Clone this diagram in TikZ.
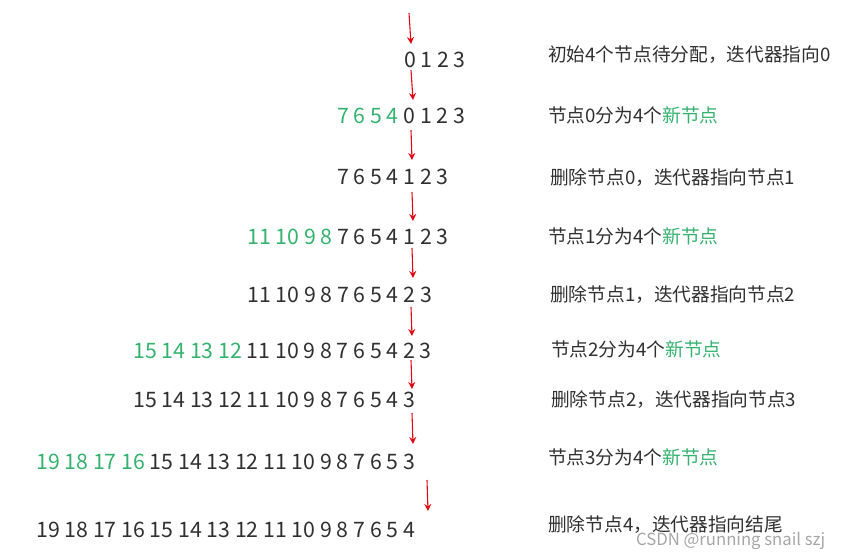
\documentclass[tikz,border=0pt]{standalone}
\usepackage{fontspec}
\setmainfont{Noto Sans CJK SC}
\usetikzlibrary{arrows.meta}
\definecolor{grn}{RGB}{52,178,110}
\definecolor{txt}{RGB}{48,48,48}
\definecolor{arr}{RGB}{225,10,20}
\newcommand{\nw}[1]{\textcolor{grn}{#1}}
\begin{document}
\begin{tikzpicture}[x=1pt,y=-1pt,every node/.style={inner sep=0pt},
    >={Stealth[width=7pt,length=7pt]},
    num/.style={anchor=base west,text=txt,font=\fontsize{21.3}{24}\selectfont},
    lab/.style={anchor=base west,text=txt,font=\fontsize{18.7}{22}\selectfont}]
    \useasboundingbox(0,0)rectangle(841,557);
    % rows of nodes
    \node[num](r1)at(404,67){0 1 2 3};
    \node[num](r2)at(337,123){\nw{7 6 5 4} 0 1 2 3};
    \node[num](r3)at(337,184){7 6 5 4 1 2 3};
    \node[num](r4)at(247,244){\nw{11 10 9 8} 7 6 5 4 1 2 3};
    \node[num](r5)at(247,302){11 10 9 8 7 6 5 4 2 3};
    \node[num](r6)at(133,358){\nw{15 14 13 12} 11 10 9 8 7 6 5 4 2 3};
    \node[num](r7)at(133,407){15 14 13 12 11 10 9 8 7 6 5 4 3};
    \node[num](r8)at(36,469){\nw{19 18 17 16} 15 14 13 12 11 10 9 8 7 6 5 3};
    \node[num](r9)at(36,537){19 18 17 16 15 14 13 12 11 10 9 8 7 6 5 4};
    % what happens
    \node[lab](t1)at(548,61){初始4个节点待分配，迭代器指向0};
    \node[lab](t2)at(548,122){节点0分为4个\nw{新节点}};
    \node[lab](t3)at(550,184){删除节点0，迭代器指向节点1};
    \node[lab](t4)at(548,243){节点1分为4个\nw{新节点}};
    \node[lab](t5)at(550,301){删除节点1，迭代器指向节点2};
    \node[lab](t6)at(551,356){节点2分为4个\nw{新节点}};
    \node[lab](t7)at(551,406){删除节点2，迭代器指向节点3};
    \node[lab](t8)at(548,464){节点3分为4个\nw{新节点}};
    \node[lab](t9)at(548,531){删除节点4，迭代器指向结尾};
    % iterator
    \foreach \i/\xa/\ya/\xb/\yb in {1/409/13/411/44,2/411/70/413/100,
      3/411/130/412/160,4/412/192/413/221,5/412/248/413/278,
      6/411/307/412/336,7/411/360/412/389,8/412/413/413/444,
      9/427/480/428/511}{
      \coordinate(s\i)at(\xa,\ya);\coordinate(e\i)at(\xb,\yb);
      \draw[->,arr,line width=1.1pt](s\i)--(e\i);}
    \node[anchor=base west,text=black!35,font=\fontsize{16.7}{19}\selectfont](wm)
      at(636,545){CSDN @running snail szj};
\end{tikzpicture}
\end{document}
